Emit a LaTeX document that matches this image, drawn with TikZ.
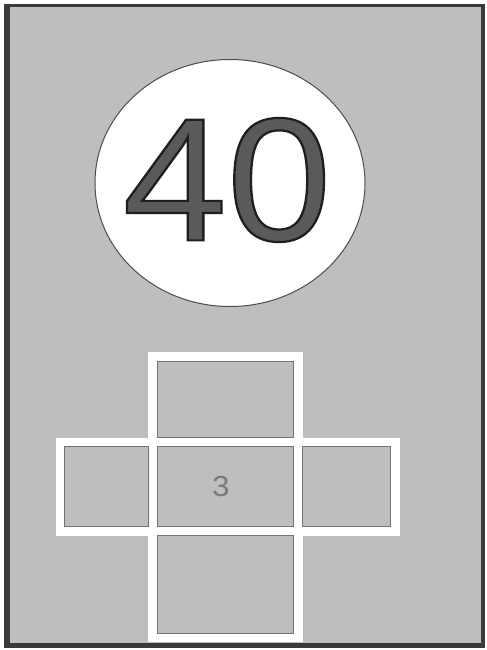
\documentclass[tikz,border=0pt]{standalone}
\usepackage{fontspec}
\setmainfont{Liberation Sans}
\usetikzlibrary{shapes.geometric}
\definecolor{bggray}{HTML}{BEBEBE}
\definecolor{framedark}{HTML}{3A3A3A}
\definecolor{digitgray}{HTML}{5A5A5A}
\definecolor{smallgray}{HTML}{7A7A7A}
\tikzset{
  cell/.style={draw=white, line width=9bp, line join=miter},
  inneredge/.style={draw=black!55, line width=0.6bp},
}
\newcommand{\outlinedtext}[1]{\special{pdf:literal direct 2 Tr 2.2 w 0.12 G}#1\special{pdf:literal direct 0 Tr 0.4 w}}
\begin{document}
\begin{tikzpicture}[x=1bp,y=-1bp]
\useasboundingbox (0,0) rectangle (487,650);
\fill[white] (0,0) rectangle (487,650);
% frame
\fill[framedark] (4,4) rectangle (485,648);
\fill[bggray] (10,7) rectangle (481,643);
% disc
\node[ellipse, draw=black!70, line width=1bp, fill=white, minimum width=270bp, minimum height=247bp, inner sep=0pt] (disc) at (230,183) {};
\node[inner sep=0pt, text=digitgray] (num) at (227,180) {\scalebox{1.07}[1]{\fontsize{176}{176}\selectfont\outlinedtext{40}}};
% cross of squares
\coordinate (a1) at (152.5,356.5);
\coordinate (a2) at (298,442);
\draw[cell] (152.5,356.5) rectangle (298,442);
\draw[cell] (60,442) rectangle (152.5,531);
\draw[cell] (152.5,442) rectangle (298,531);
\draw[cell] (298,442) rectangle (395,531);
\draw[cell] (152.5,531) rectangle (298,637.5);
% inner edges
\draw[inneredge] (157,361) rectangle (293.5,437.5);
\draw[inneredge] (64.5,446.5) rectangle (148,526.5);
\draw[inneredge] (157,446.5) rectangle (293.5,526.5);
\draw[inneredge] (302.5,446.5) rectangle (390.5,526.5);
\draw[inneredge] (157,535.5) rectangle (293.5,633);
\node[inner sep=0pt, text=smallgray] (three) at (221,487) {\scalebox{1.07}[1]{\fontsize{29}{29}\selectfont 3}};
\end{tikzpicture}
\end{document}
